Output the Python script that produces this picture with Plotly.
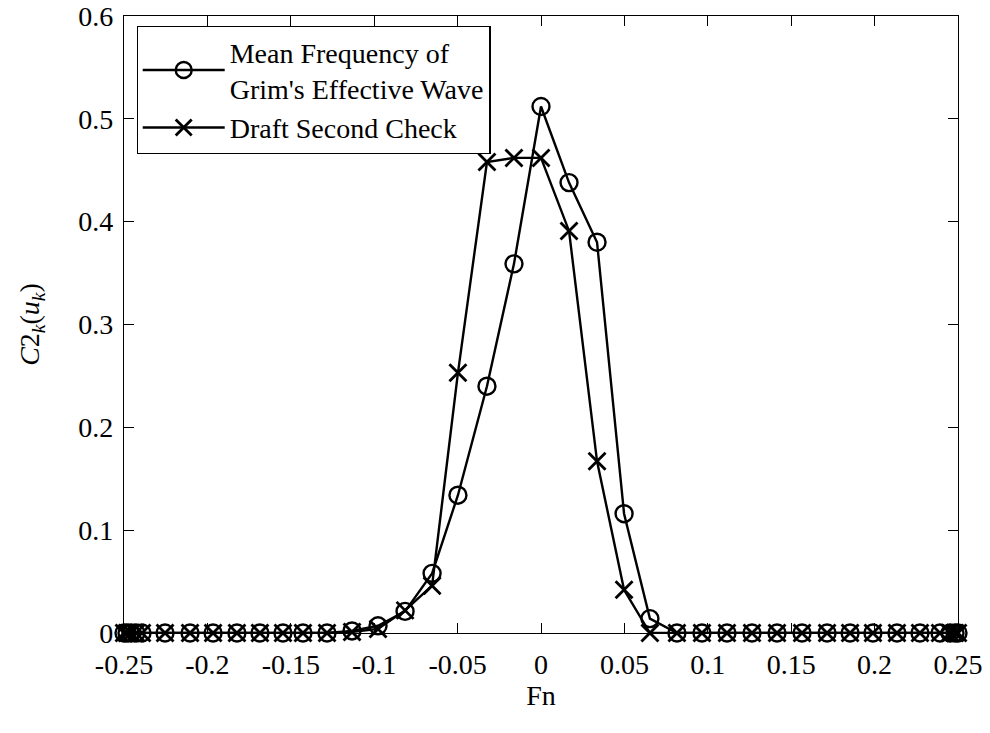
import plotly.graph_objects as go

fn = [-0.2500, -0.2482, -0.2458, -0.2428, -0.2392, -0.2254, -0.2104, -0.1966, -0.1823,
      -0.1685, -0.1547, -0.1427, -0.1283, -0.1133, -0.0977, -0.0815, -0.0653, -0.0498,
      -0.0324, -0.0162, 0.0, 0.0168, 0.0336, 0.0498, 0.0653, 0.0815, 0.0965, 0.1115,
      0.1265, 0.1415, 0.1565, 0.1715, 0.1853, 0.1990, 0.2134, 0.2272, 0.2392, 0.2452,
      0.2482, 0.2500]

mean_freq = [0, 0, 0, 0, 0, 0, 0, 0, 0,
             0, 0, 0, 0, 0.002, 0.007, 0.021, 0.058, 0.134,
             0.240, 0.359, 0.512, 0.438, 0.380, 0.116, 0.014, 0, 0, 0,
             0, 0, 0, 0, 0, 0, 0, 0, 0, 0,
             0, 0]

draft_check = [0, 0, 0, 0, 0, 0, 0, 0, 0,
               0, 0, 0, 0, 0.001, 0.004, 0.022, 0.046, 0.253,
               0.458, 0.462, 0.462, 0.391, 0.167, 0.042, 0.0, 0, 0, 0,
               0, 0, 0, 0, 0, 0, 0, 0, 0, 0,
               0, 0]

x_ticks = [-0.25, -0.2, -0.15, -0.1, -0.05, 0, 0.05, 0.1, 0.15, 0.2, 0.25]
x_tick_labels = ["-0.25", "-0.2", "-0.15", "-0.1", "-0.05", "0", "0.05", "0.1", "0.15", "0.2", "0.25"]
y_ticks = [0, 0.1, 0.2, 0.3, 0.4, 0.5, 0.6]
y_tick_labels = ["0", "0.1", "0.2", "0.3", "0.4", "0.5", "0.6"]

font_family = "Liberation Serif, Times New Roman, serif"
FS = 28

fig = go.Figure()
fig.add_trace(go.Scatter(
    x=fn, y=mean_freq, mode="lines+markers",
    name="Mean Frequency of<br>Grim's Effective Wave",
    line=dict(color="black", width=2.4),
    marker=dict(symbol="circle-open", size=17, color="black", line=dict(width=2.4, color="black")),
    cliponaxis=False,
))
fig.add_trace(go.Scatter(
    x=fn, y=draft_check, mode="lines+markers",
    name="Draft Second Check",
    line=dict(color="black", width=2.4),
    marker=dict(symbol="x-thin-open", size=17, color="black", line=dict(width=2.8, color="black")),
    cliponaxis=False,
))

axis_common = dict(
    showline=True, linecolor="black", linewidth=1.2, mirror="ticks",
    ticks="inside", ticklen=10, tickcolor="black", tickwidth=1.2,
    showgrid=False, zeroline=False, automargin=False,
    ticklabeloverflow="allow",
    tickfont=dict(family=font_family, size=FS, color="black"),
)

fig.update_layout(
    width=990, height=733,
    margin=dict(l=116, r=40, t=8, b=108),
    paper_bgcolor="white", plot_bgcolor="white",
    font=dict(family=font_family, color="black"),
    showlegend=True,
    legend=dict(
        x=0.015, y=0.984, xanchor="left", yanchor="top",
        bgcolor="white", bordercolor="black", borderwidth=1.2,
        font=dict(family=font_family, size=FS, color="black"),
        itemwidth=82, tracegroupgap=0,
    ),
    xaxis=dict(
        range=[-0.25, 0.25], tickvals=x_ticks, ticktext=x_tick_labels,
        ticklabelstandoff=6,
        title=dict(text="Fn", font=dict(family=font_family, size=FS, color="black"), standoff=5),
        **axis_common,
    ),
    yaxis=dict(
        range=[0, 0.6], tickvals=y_ticks, ticktext=y_tick_labels,
        ticklabelstandoff=4,
        title=dict(text="<i>C</i>2<sub><i>k</i></sub>(<i>u</i><sub><i>k</i></sub>)",
                   font=dict(family=font_family, size=FS, color="black"), standoff=30),
        **axis_common,
    ),
)

fig.write_html("out.html")
